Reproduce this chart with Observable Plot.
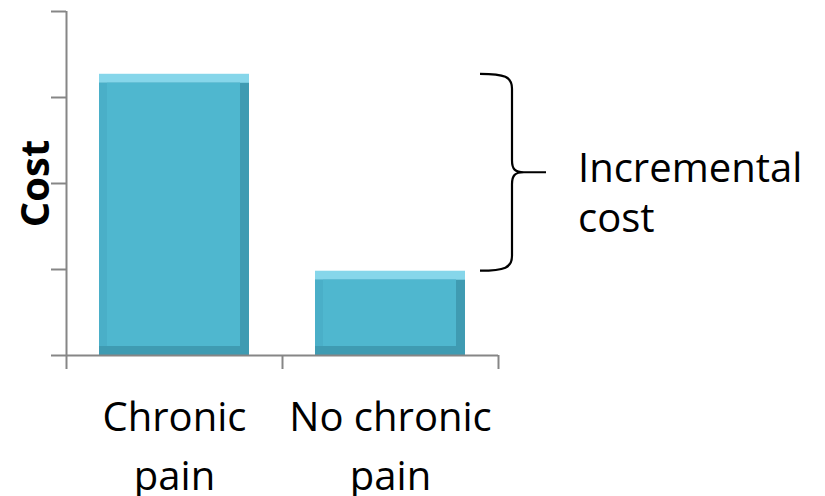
<!DOCTYPE html>
<html>
<head>
<meta charset="utf-8">
<script src="https://cdn.jsdelivr.net/npm/d3@7"></script>
<script src="https://cdn.jsdelivr.net/npm/@observablehq/plot@0.6"></script>
<style>
  html, body { margin: 0; padding: 0; background: #fff; }
  #chart svg { display: block; }
</style>
</head>
<body>
<div id="chart"></div>
<script>
const categories = ["Chronic pain", "No chronic pain"];
const tickLabels = ["Chronic\npain", "No chronic\npain"];
const values = [3.27, 0.98];
const yTicks = [0, 1, 2, 3, 4];
const xTicks = [0, 1, 2];
const yLabel = "Cost";
const braceLabel = "Incremental\ncost";

const rows = categories.map((c, i) => ({category: c, i, value: values[i], label: tickLabels[i]}));

const FONT = "'Open Sans', sans-serif";
const AXIS = "#868686";
const inset = 33;

function brace(index, scales, vals, dims) {
  const yTop = scales.y(d3.max(values));
  const yBot = scales.y(d3.min(values));
  const mid = (yTop + yBot) / 2;
  const x0 = dims.width - dims.marginRight - 18; // left ends
  const xv = x0 + 32; // vertical stem
  const xt = xv + 34; // tip
  const p = d3.path();
  p.moveTo(x0, yTop);
  p.bezierCurveTo(x0 + 25, yTop, xv, yTop + 3, xv, yTop + 15);
  p.lineTo(xv, mid - 12);
  p.bezierCurveTo(xv, mid - 3, xv + 3, mid, xv + 12, mid);
  p.lineTo(xt, mid);
  p.moveTo(xv + 12, mid);
  p.bezierCurveTo(xv + 3, mid, xv, mid + 3, xv, mid + 12);
  p.lineTo(xv, yBot - 15);
  p.bezierCurveTo(xv, yBot - 3, x0 + 25, yBot, x0, yBot);
  const g = d3.create("svg:g");
  g.append("path").attr("d", p.toString()).attr("fill", "none")
    .attr("stroke", "#000").attr("stroke-width", 2.2);
  const t = g.append("text")
    .attr("font-family", FONT).attr("font-size", 40).attr("fill", "#000")
    .attr("text-anchor", "start");
  braceLabel.split("\n").forEach((line, k) => {
    t.append("tspan").attr("x", xt + 32).attr("y", mid + 10 + k * 50).text(line);
  });
  return g.node();
}

const plot = Plot.plot({
  width: 825,
  height: 496,
  marginLeft: 66,
  marginRight: 327,
  marginTop: 11,
  marginBottom: 141,
  style: {background: "#fff", fontFamily: FONT},
  x: {type: "linear", domain: [0, 2], axis: null},
  y: {domain: [0, 4], axis: null},
  marks: [
    // bars: light top edge, dark sides/bottom, body
    Plot.rectY(rows, {x1: "i", x2: d => d.i + 1, y1: 0, y2: "value", insetLeft: inset, insetRight: inset,
      fill: "#86d6ea", style: "filter: drop-shadow(1px 2px 2px rgba(0,0,0,0.25))"}),
    Plot.rectY(rows, {x1: "i", x2: d => d.i + 1, y1: 0, y2: "value", insetLeft: inset, insetRight: inset,
      insetTop: 9, fill: "#3f9bb2"}),
    Plot.rectY(rows, {x1: "i", x2: d => d.i + 1, y1: 0, y2: "value", insetLeft: inset, insetRight: inset + 9,
      insetTop: 9, insetBottom: 9, fill: "#4aafc8"}),
    Plot.rectY(rows, {x1: "i", x2: d => d.i + 1, y1: 0, y2: "value", insetLeft: inset + 8, insetRight: inset + 9,
      insetTop: 9, insetBottom: 9, fill: "#4fb7cf"}),
    // axes
    Plot.axisY({ticks: yTicks, tickFormat: () => "", tickSize: 15, stroke: AXIS, strokeWidth: 2, label: null}),
    Plot.axisX({ticks: xTicks, tickFormat: () => "", tickSize: 14, stroke: AXIS, strokeWidth: 2, label: null}),
    Plot.ruleX([0], {stroke: AXIS, strokeWidth: 2}),
    Plot.ruleY([0], {stroke: AXIS, strokeWidth: 2}),
    // category labels
    Plot.text(rows, {x: d => d.i + 0.5, y: 0, text: "label", lineAnchor: "top", dy: 34,
      fontSize: 40, lineHeight: 1.47, fill: "#000", fontFamily: FONT}),
    // y label
    Plot.text([yLabel], {frameAnchor: "left", textAnchor: "middle", rotate: -90, dx: -30, fontSize: 40,
      fontWeight: "bold", fill: "#000", fontFamily: FONT}),
    brace
  ]
});
document.getElementById("chart").appendChild(plot);
</script>
</body>
</html>
